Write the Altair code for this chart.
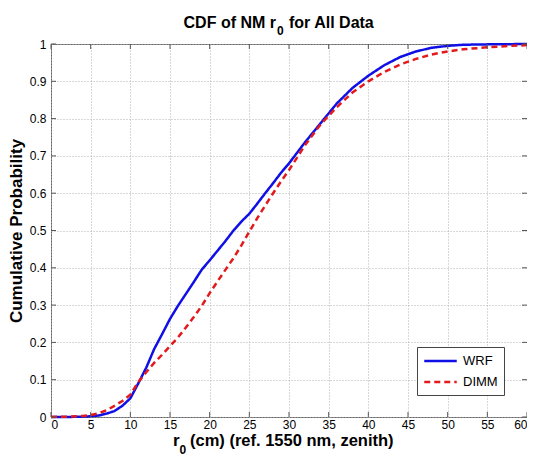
import altair as alt
import pandas as pd

# ---- data ----
r0_wrf = [0, 2, 4, 5, 6, 7, 8, 9, 10, 11, 12, 13, 14, 15, 16, 17, 18, 19, 20, 21, 22, 23, 24, 25,
          26, 27, 28, 29, 30, 32, 34, 36, 38, 40, 42, 44, 46, 48, 50, 52, 55, 60]
p_wrf = [0.0, 0.0, 0.001, 0.002, 0.004, 0.009, 0.016, 0.030, 0.050, 0.090, 0.132, 0.182, 0.222,
         0.263, 0.298, 0.330, 0.362, 0.395, 0.420, 0.446, 0.472, 0.500, 0.524, 0.545, 0.572,
         0.600, 0.627, 0.655, 0.680, 0.736, 0.788, 0.840, 0.882, 0.915, 0.943, 0.965, 0.980,
         0.990, 0.995, 0.998, 0.999, 1.0]

r0_dimm = [0, 2, 4, 5, 6, 7, 8, 9, 10, 11, 12, 13, 14, 15, 16, 17, 18, 19, 20, 21, 22, 23, 24, 25,
           26, 27, 28, 29, 30, 32, 34, 36, 38, 40, 42, 44, 46, 48, 50, 52, 55, 58, 60]
p_dimm = [0.0, 0.001, 0.003, 0.005, 0.010, 0.018, 0.030, 0.043, 0.060, 0.094, 0.120, 0.145,
          0.167, 0.190, 0.213, 0.240, 0.268, 0.298, 0.332, 0.364, 0.395, 0.426, 0.460, 0.497,
          0.533, 0.567, 0.600, 0.632, 0.662, 0.728, 0.785, 0.830, 0.870, 0.900, 0.925, 0.945,
          0.960, 0.972, 0.980, 0.986, 0.991, 0.995, 0.997]

series_names = ["WRF", "DIMM"]
series_colors = ["#1010e6", "#e31a1c"]
series_dash = [[1, 0], [6, 4]]

x_ticks = list(range(0, 61, 5))
y_ticks = [round(i / 10, 1) for i in range(0, 11)]

title_main = "CDF of NM r"
title_sub = "0"
title_rest = "for All Data"
xtitle_main = "r"
xtitle_sub = "0"
xtitle_rest = "(cm) (ref. 1550 nm, zenith)"
ytitle = "Cumulative Probability"

df = pd.concat([
    pd.DataFrame({"r0": r0_wrf, "p": p_wrf, "series": "WRF"}),
    pd.DataFrame({"r0": r0_dimm, "p": p_dimm, "series": "DIMM"}),
])

W, H = 476, 373
FONT = "Liberation Sans"

xscale = alt.Scale(domain=[0, 60], nice=False)
yscale = alt.Scale(domain=[0, 1], nice=False)

xaxis = alt.Axis(values=x_ticks, title=None, tickSize=0, labelPadding=2,
                 labelOverlap=False, format="~g", grid=True,
                 gridColor="#b0b0b0", gridDash=[1, 2], domain=False,
                 labelFont=FONT, labelFontSize=12, labelColor="black")
yaxis = alt.Axis(values=y_ticks, title=ytitle, tickSize=0, labelPadding=5,
                 labelOverlap=False, format="~g", grid=True,
                 gridColor="#b0b0b0", gridDash=[1, 2], domain=False,
                 labelFont=FONT, labelFontSize=12, labelColor="black",
                 titleFont=FONT, titleFontSize=17, titleFontWeight="bold",
                 titleColor="black", titlePadding=4)

leg = alt.Legend(
    title=None, orient="none", legendX=366, legendY=303,
    symbolType="M-2.5,0H2.5", symbolSize=169, symbolStrokeWidth=2.5,
    symbolOffset=9.5, labelOffset=14.5,
    labelFont=FONT, labelFontSize=13, labelColor="black",
    fillColor="white", strokeColor="#444444", padding=6, rowPadding=6,
    cornerRadius=0,
)

lines = alt.Chart(df).mark_line(strokeWidth=2.5).encode(
    x=alt.X("r0:Q", scale=xscale, axis=xaxis),
    y=alt.Y("p:Q", scale=yscale, axis=yaxis),
    color=alt.Color("series:N", scale=alt.Scale(domain=series_names, range=series_colors), legend=leg),
    strokeDash=alt.StrokeDash("series:N", scale=alt.Scale(domain=series_names, range=series_dash), legend=leg),
    order=alt.Order("r0:Q"),
)

xt = pd.DataFrame({"v": x_ticks})
yt = pd.DataFrame({"v": y_ticks})
tick_color = "#555555"
tb = alt.Chart(xt).mark_rule(color=tick_color).encode(x=alt.X("v:Q", scale=xscale, axis=xaxis), y=alt.value(H), y2=alt.value(H - 5))
tt = alt.Chart(xt).mark_rule(color=tick_color).encode(x=alt.X("v:Q", scale=xscale, axis=xaxis), y=alt.value(0), y2=alt.value(5))
tl = alt.Chart(yt).mark_rule(color=tick_color).encode(y=alt.Y("v:Q", scale=yscale, axis=yaxis), x=alt.value(0), x2=alt.value(5))
tr = alt.Chart(yt).mark_rule(color=tick_color).encode(y=alt.Y("v:Q", scale=yscale, axis=yaxis), x=alt.value(W), x2=alt.value(W - 5))


def label(text, x, y, size, align="left"):
    return alt.Chart(pd.DataFrame({"t": [text]})).mark_text(
        font=FONT, fontSize=size, fontWeight="bold", color="black",
        align=align, baseline="alphabetic",
    ).encode(text="t:N", x=alt.value(x), y=alt.value(y))


titles = [
    label(title_main, 225, -16.5, 16, "right"),
    label(title_sub, 226, -9.5, 12),
    label(title_rest, 238, -16.5, 16),
    label(xtitle_main, 122, 402, 17),
    label(xtitle_sub, 128.5, 409.5, 12),
    label(xtitle_rest, 139, 402, 16.5),
]

chart = alt.layer(lines, tb, tt, tl, tr, *titles).properties(
    width=W, height=H,
    autosize=alt.AutoSizeParams(type="none"),
    padding={"left": 43, "top": 36, "right": 0, "bottom": 40},
    background="white",
).configure_view(
    stroke="#666666", strokeWidth=1,
)

chart.save("out.html", embed_options={"renderer": "svg", "actions": False})
